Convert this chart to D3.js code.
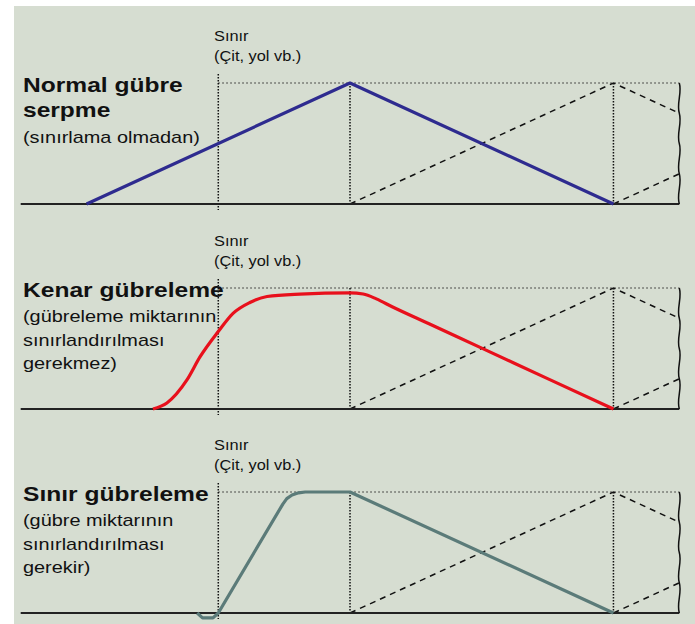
<!DOCTYPE html>
<html><head><meta charset="utf-8">
<script src="https://cdn.jsdelivr.net/npm/d3@7"></script>
<style>body{margin:0;background:#fff}svg{display:block}</style>
</head><body>
<script>
// ---- data ----
const borderLabel = ["Sınır", "(Çit, yol vb.)"];
const titleLines = [["Normal gübre", "serpme"], ["Kenar gübreleme"], ["Sınır gübreleme"]];
const noteLines = [["(sınırlama olmadan)"], ["(gübreleme miktarının", "sınırlandırılması", "gerekmez)"], ["(gübre miktarının", "sınırlandırılması", "gerekir)"]];
const normalX = [-1, 1, 3];
const normalY = [0, 1, 0];
const edgeX = [-0.496, -0.39, -0.238, -0.139, 0, 0.112, 0.24, 0.37, 0.62, 1.0, 1.1, 1.2, 1.32, 1.6, 2.0, 2.5, 3.0];
const edgeY = [0, 0.05, 0.24, 0.43, 0.64, 0.79, 0.88, 0.93, 0.95, 0.96, 0.95, 0.91, 0.845, 0.704, 0.503, 0.251, 0];
const borderX = [-0.16, -0.12, -0.04, 0, 0.49, 0.52, 0.56, 0.61, 0.66, 1.0, 3.0];
const borderY = [0, -0.04, -0.04, 0, 0.9, 0.945, 0.975, 0.993, 1.0, 1.0, 0];
const nextPassAX = [1, 3, 3.5];
const nextPassAY = [0, 1, 0.75];
const nextPassBX = [3, 3.5];
const nextPassBY = [0, 0.25];
const tramlines = [1, 3];
const seriesX = [normalX, edgeX, borderX];
const seriesY = [normalY, edgeY, borderY];
const seriesColor = ["#2e2b8f", "#e8101c", "#5b7b79"];

// ---- layout ----
const W = 695, H = 624;
const panelTop = [83, 288, 492];
const panelH = 121;
const svg = d3.select("body").append("svg").attr("width", W).attr("height", H);
svg.append("rect").attr("x", 14).attr("y", 6).attr("width", W - 14).attr("height", H - 6).attr("fill", "#d6ddd1");

const x = d3.scaleLinear().domain([-1.5, 3.5]).range([20.7, 679.3]);
const font = "'Liberation Sans', Arial, sans-serif";
const sx = 1.17;

function txt(g, s, tx, ty, size, weight) {
  g.append("text").attr("transform", `translate(${tx},${ty}) scale(${sx},1)`)
    .attr("font-family", font).attr("font-size", size).attr("font-weight", weight)
    .attr("fill", "#111").text(s);
}

panelTop.forEach((top, i) => {
  const base = top + panelH;
  const y = d3.scaleLinear().domain([0, 1]).range([base, top]);
  const g = svg.append("g");
  const line = d3.line().x(d => x(d[0])).y(d => y(d[1]));

  // top dotted reference line
  g.append("line").attr("x1", x(0)).attr("x2", x(3.5)).attr("y1", y(1)).attr("y2", y(1))
    .attr("stroke", "#222").attr("stroke-width", 1.2).attr("stroke-dasharray", "1.5,2.5");
  // border line
  g.append("line").attr("x1", x(0)).attr("x2", x(0)).attr("y1", top - 9).attr("y2", base + 6)
    .attr("stroke", "#111").attr("stroke-width", 1.5).attr("stroke-dasharray", "1.5,1.5");
  // tramlines
  tramlines.forEach(t => {
    g.append("line").attr("x1", x(t)).attr("x2", x(t)).attr("y1", y(1)).attr("y2", base)
      .attr("stroke", "#111").attr("stroke-width", 1.5).attr("stroke-dasharray", "1.5,1.5");
  });
  // neighbouring passes
  [[nextPassAX, nextPassAY], [nextPassBX, nextPassBY]].forEach(([xs, ys]) => {
    g.append("path").attr("d", line(xs.map((v, k) => [v, ys[k]])))
      .attr("fill", "none").attr("stroke", "#111").attr("stroke-width", 1.5).attr("stroke-dasharray", "6,5");
  });
  // baseline
  g.append("line").attr("x1", x(-1.5)).attr("x2", x(3.5)).attr("y1", base).attr("y2", base)
    .attr("stroke", "#222").attr("stroke-width", 2);
  // wavy break edge
  const xe = x(3.5), n = 4, L = (base - top) / n;
  let d = `M${xe},${top}`;
  for (let k = 0; k < n; k++) {
    const y0 = top + k * L;
    d += ` C${xe + 3},${y0 + L / 3} ${xe - 3},${y0 + 2 * L / 3} ${xe},${y0 + L}`;
  }
  g.append("path").attr("d", d).attr("fill", "none").attr("stroke", "#111").attr("stroke-width", 1.5);

  // series
  const pts = seriesX[i].map((v, k) => [v, seriesY[i][k]]);
  const curved = i === 1 ? line.curve(d3.curveMonotoneX) : line;
  g.append("path").attr("d", curved(pts)).attr("fill", "none")
    .attr("stroke", seriesColor[i]).attr("stroke-width", 3.2).attr("stroke-linejoin", "round");

  // labels
  txt(g, borderLabel[0], 214, top - 42.5, 14, "normal");
  txt(g, borderLabel[1], 214, top - 22.5, 14, "normal");
  let ty = top + 8.5;
  titleLines[i].forEach(s => { txt(g, s, 23, ty, 21, "bold"); ty += 25.5; });
  noteLines[i].forEach(s => { txt(g, s, 23, ty, 17, "normal"); ty += 23.5; });
});
</script>
</body></html>
